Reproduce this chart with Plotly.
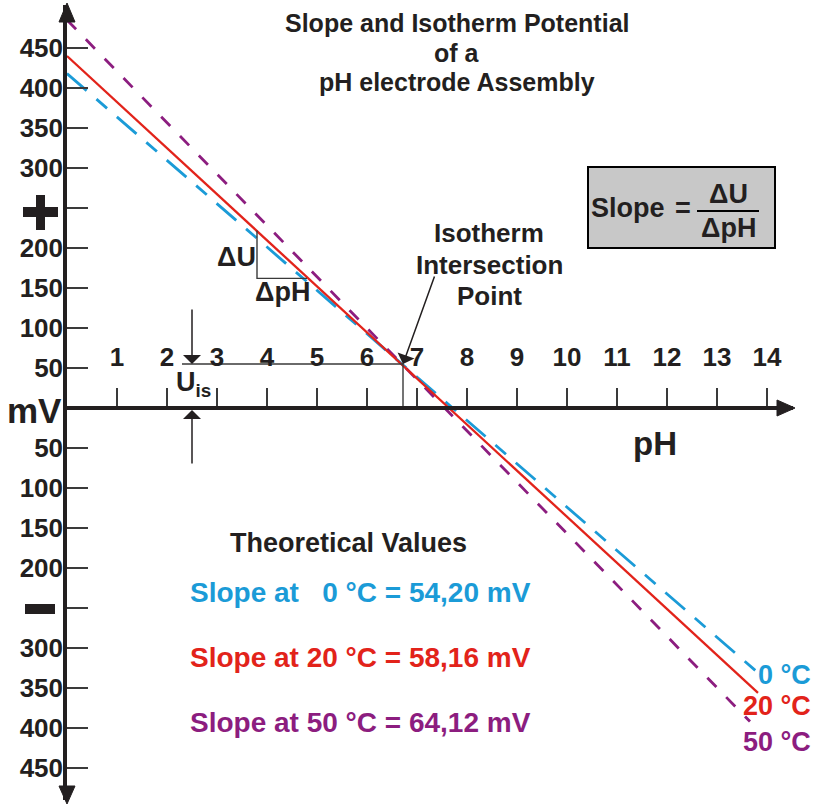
import plotly.graph_objects as go

# ---------------- data ----------------
ph_0C = [0.0, 13.82]
mv_0C = [418, -331]
ph_20C = [0.0, 13.82]
mv_20C = [440, -356]
ph_50C = [0.0, 13.66]
mv_50C = [485, -392]

ph_ticks = list(range(1, 15))
ph_ticktext = [str(v) for v in ph_ticks]
mv_ticks = [450, 400, 350, 300, 200, 150, 100, 50,
            -50, -100, -150, -200, -300, -350, -400, -450]
mv_ticktext = [str(abs(v)) for v in mv_ticks]
mv_sign_ticks = [250, -250]   # labelled with the big + / − signs

iso_ph = 6.72
iso_mv = 55
uis_ph_start = 2.3
delta_ph = [3.8, 3.8, 4.8]
delta_mv = [222, 162, 162]

temps = ["0 °C", "20 °C", "50 °C"]
slope_texts = ["Slope at \u00a0\u00a00 °C = 54,20 mV",
               "Slope at 20 °C = 58,16 mV",
               "Slope at 50 °C = 64,12 mV"]

# ---------------- styling ----------------
BLUE = "#1b9bd7"
RED = "#e2231a"
PURPLE = "#8c1d7f"
INK = "#231f20"
GRAY = "#3a3a3a"
FONT = "Liberation Sans"

W, H = 815, 805
ML, MR, MT, MB = 67, 22, 5, 5
PW, PH = W - ML - MR, H - MT - MB


def P(px):  # pixel x -> paper x
    return (px - ML) / PW


def Q(py):  # pixel y -> paper y
    return (H - MB - py) / PH


fig = go.Figure()

fig.add_trace(go.Scatter(x=ph_0C, y=mv_0C, mode="lines",
                         line=dict(color=BLUE, width=2.8, dash="26px,13px,14px,13px"),
                         hoverinfo="skip"))
fig.add_trace(go.Scatter(x=ph_50C, y=mv_50C, mode="lines",
                         line=dict(color=PURPLE, width=2.8, dash="13px,14px"),
                         hoverinfo="skip"))
fig.add_trace(go.Scatter(x=ph_20C, y=mv_20C, mode="lines",
                         line=dict(color=RED, width=2.3),
                         hoverinfo="skip"))
# U_is construction lines
fig.add_trace(go.Scatter(x=[uis_ph_start, iso_ph, iso_ph], y=[iso_mv, iso_mv, 0],
                         mode="lines", line=dict(color=GRAY, width=1.4),
                         hoverinfo="skip"))
# slope triangle
fig.add_trace(go.Scatter(x=delta_ph, y=delta_mv, mode="lines",
                         line=dict(color=GRAY, width=1.4), hoverinfo="skip"))

shapes = []
# plus / minus signs
for (x0, y0, x1, y1) in [(23, 207, 58, 217), (36, 195, 45, 230), (25, 604, 55, 614)]:
    shapes.append(dict(type="rect", xref="paper", yref="paper",
                       x0=P(x0), x1=P(x1), y0=Q(y0), y1=Q(y1),
                       fillcolor=INK, line=dict(width=0)))


def tri(pts):
    d = "M " + " L ".join(f"{P(a)},{Q(b)}" for a, b in pts) + " Z"
    return dict(type="path", xref="paper", yref="paper", path=d,
                fillcolor=INK, line=dict(color=INK, width=1))


shapes.append(tri([(67, 3), (59, 22), (75, 22)]))
shapes.append(tri([(67, 804), (59, 786), (75, 786)]))
shapes.append(tri([(795, 408), (777, 400), (777, 416)]))
# slope box
shapes.append(dict(type="rect", xref="paper", yref="paper",
                   x0=P(588), x1=P(775), y0=Q(248), y1=Q(167),
                   fillcolor="#c8c8c8", line=dict(color="black", width=2)))
shapes.append(dict(type="line", xref="paper", yref="paper",
                   x0=P(697), x1=P(759), y0=Q(211), y1=Q(211),
                   line=dict(color="black", width=2)))

ann = []


def txt(text, px, py, size, color=INK, xanchor="center"):
    ann.append(dict(text=text, x=P(px), y=Q(py), xref="paper", yref="paper",
                    xanchor=xanchor, yanchor="middle", showarrow=False,
                    font=dict(family=FONT, size=size, color=color, weight="bold")))


# title
txt("Slope and Isotherm Potential", 457, 23, 25)
txt("of a", 457, 53, 25)
txt("pH electrode Assembly", 457, 82, 25)
# isotherm text
txt("Isotherm", 489, 233, 26)
txt("Intersection", 489, 265, 26)
txt("Point", 489, 296, 26)
# slope box text
txt("Slope", 628, 208, 27)
txt("=", 683, 208, 27)
txt("ΔU", 728, 194, 27)
txt("ΔpH", 728, 228, 27)
# triangle labels
txt("ΔU", 236, 257, 27)
txt("ΔpH", 282, 292, 27)
# U_is
txt("U<sub>is</sub>", 193, 384, 27)
# axis names
txt("mV", 34, 410, 35)
txt("pH", 655, 443, 33)
# theoretical values
txt("Theoretical Values", 228, 543, 27, xanchor="left")
for t, c, yy in zip(slope_texts, [BLUE, RED, PURPLE], [592, 657, 722]):
    txt(t, 188, yy, 28, color=c, xanchor="left")
# temperature labels
for t, c, yy in zip(temps, [BLUE, RED, PURPLE], [675, 706, 742]):
    txt(t, 813, yy, 27, color=c, xanchor="right")


def arrow(tx, ty, axp, ayp):
    ann.append(dict(text="", x=P(tx), y=Q(ty), xref="paper", yref="paper",
                    ax=axp, ay=ayp, showarrow=True, arrowhead=1, arrowsize=2,
                    arrowwidth=1.5, arrowcolor=INK, standoff=0))


arrow(192, 364, 0, -56)
arrow(192, 410, 0, 55)
arrow(403, 364, 32, -89)

fig.update_layout(
    width=W, height=H,
    margin=dict(l=ML, r=MR, t=MT, b=MB),
    paper_bgcolor="white", plot_bgcolor="white",
    showlegend=False, hovermode=False,
    shapes=shapes, annotations=ann,
    xaxis=dict(range=[0, PW / 50], anchor="free", position=Q(408), side="top",
               showline=True, linecolor=INK, linewidth=3.5,
               ticks="outside", ticklen=18, tickwidth=1.5, tickcolor=GRAY,
               tickvals=ph_ticks, ticktext=ph_ticktext, ticklabelstandoff=12,
               tickfont=dict(family=FONT, size=26, color=INK, weight="bold"),
               showgrid=False, zeroline=False, fixedrange=True),
    yaxis=dict(range=[(408 - (H - MB)) / 0.8, (408 - MT) / 0.8],
               showline=True, linecolor=INK, linewidth=3.5,
               ticks="inside", ticklen=21, tickwidth=1.5, tickcolor=GRAY,
               tickvals=mv_ticks, ticktext=mv_ticktext, ticklabelstandoff=-5,
               tickfont=dict(family=FONT, size=26, color=INK, weight="bold"),
               minor=dict(tickmode="array", tickvals=mv_sign_ticks, ticks="inside",
                          ticklen=21, tickwidth=1.5, tickcolor=GRAY, showgrid=False),
               showgrid=False, zeroline=False, fixedrange=True),
)

fig.write_html("out.html", config={"displayModeBar": False},
               post_script="document.body.style.margin='0';")
